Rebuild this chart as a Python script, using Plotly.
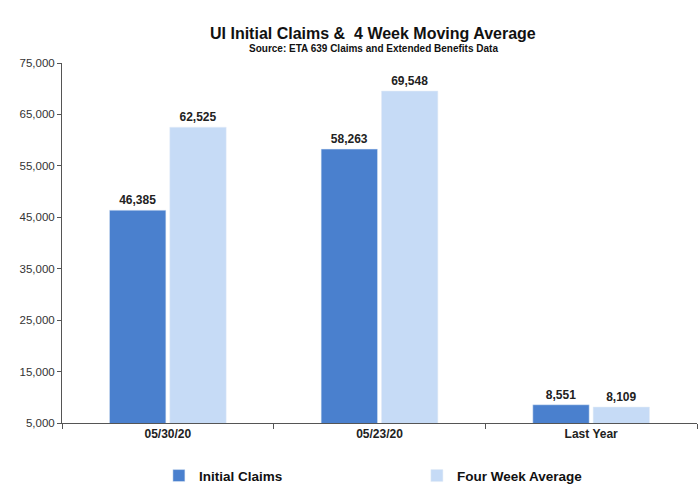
import plotly.graph_objects as go

categories = ["05/30/20", "05/23/20", "Last Year"]
initial_claims = [46385, 58263, 8551]
four_week_avg = [62525, 69548, 8109]
y_ticks = [5000, 15000, 25000, 35000, 45000, 55000, 65000, 75000]

font_family = "Liberation Sans Narrow, Arial Narrow, Liberation Sans, Arial"

fig = go.Figure()
fig.add_trace(go.Bar(x=categories, y=initial_claims, name="<b>Initial Claims</b>",
                     marker=dict(color="#4A80CE"),
                     texttemplate="<b>%{y:,}</b>",
                     textposition="outside", cliponaxis=False,
                     textfont=dict(size=12, color="#222222", family=font_family)))
fig.add_trace(go.Bar(x=categories, y=four_week_avg, name="<b>Four Week Average</b>",
                     marker=dict(color="#C6DBF6"),
                     texttemplate="<b>%{y:,}</b>",
                     textposition="outside", cliponaxis=False,
                     textfont=dict(size=12, color="#222222", family=font_family)))

fig.update_layout(
    width=700, height=489,
    margin=dict(l=62, r=3, t=63, b=66, autoexpand=False),
    paper_bgcolor="white", plot_bgcolor="white",
    barmode="group", bargap=0.43, bargroupgap=0.065,
    font=dict(family=font_family, color="#222222"),
    legend=dict(orientation="h", xref="container", x=0.227, xanchor="left",
                yref="container", y=0.027, yanchor="middle",
                font=dict(size=13.5, color="#111111", family=font_family),
                itemwidth=30, entrywidth=213),
    showlegend=True,
)
# title and source line placed above the plot area
fig.add_annotation(text="<b>UI Initial Claims &  4 Week Moving Average</b>",
                   xref="paper", yref="paper", x=0.49, y=(423 - 33) / 360,
                   xanchor="center", yanchor="middle", showarrow=False,
                   font=dict(size=16, color="#111111", family=font_family))
fig.add_annotation(text="<b>Source: ETA 639 Claims and Extended Benefits Data</b>",
                   xref="paper", yref="paper", x=0.49, y=(423 - 49) / 360,
                   xanchor="center", yanchor="middle", showarrow=False,
                   font=dict(size=10, color="#111111", family=font_family))
fig.update_yaxes(range=[5000, 75000], tickvals=y_ticks, tickformat=",",
                 showline=True, linecolor="#555555", linewidth=1,
                 ticks="outside", ticklen=4, tickcolor="#555555",
                 showgrid=False, zeroline=False, automargin=False,
                 tickfont=dict(size=11.5, color="#333333"))
fig.update_xaxes(showline=True, linecolor="#555555", linewidth=1,
                 ticks="outside", ticklen=5, tickcolor="#555555",
                 tickson="boundaries", showgrid=False, automargin=False,
                 tickfont=dict(size=12, color="#222222"),
                 ticktext=[f"<b>{c}</b>" for c in categories], tickvals=categories)

# drop the default page margin so the 700x489 figure fills the window
fig.write_html("out.html", config={"displayModeBar": False},
               post_script="document.body.style.margin='0';")
